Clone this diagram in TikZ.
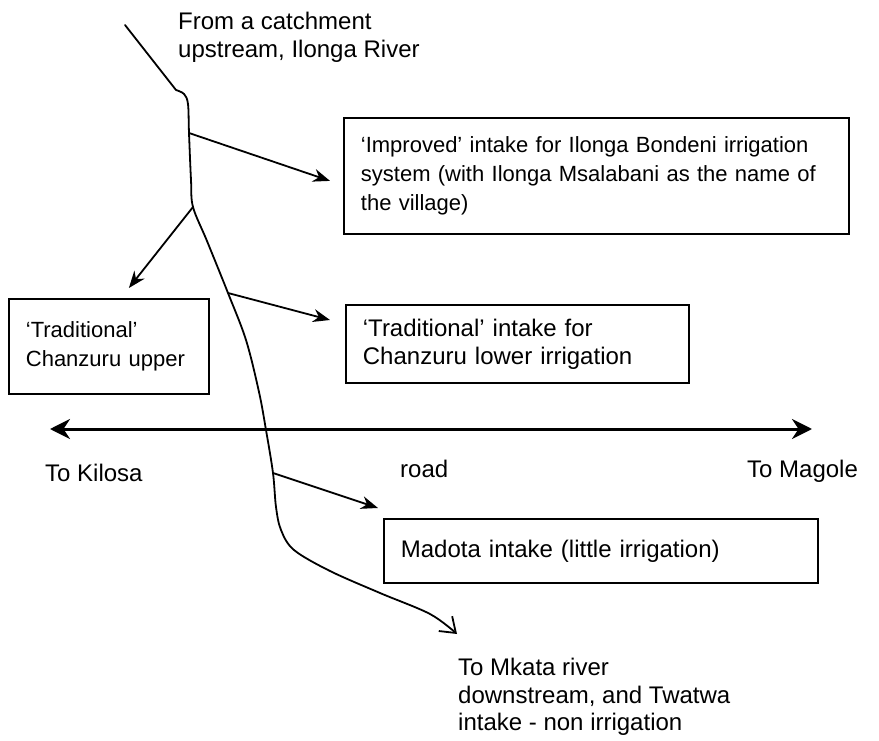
\documentclass[tikz,border=0pt]{standalone}
\usepackage{fontspec}
\setmainfont{Liberation Sans}
\usepackage{tikz}
\usetikzlibrary{arrows.meta}

\begin{document}
\begin{tikzpicture}[
    x=1pt, y=-1pt,
    intake/.style={rectangle, draw, line width=1.8pt, anchor=north west,
                   align=left, inner xsep=17pt, inner ysep=0pt,
                   font=\fontsize{22}{29}\selectfont},
    wide/.style={font=\fontsize{24}{28}\selectfont},
    note/.style={anchor=base west, align=left, inner sep=0pt,
                 font=\fontsize{24}{27.5}\selectfont},
    river/.style={line width=1.8pt, line join=round, line cap=round},
    feed/.style={line width=1.8pt, -{Stealth[length=17pt,width=13pt]}},
    road/.style={line width=3pt,
                 {Stealth[length=20pt,width=20pt]}-{Stealth[length=20pt,width=20pt]}}
  ]
    \useasboundingbox (0,0) rectangle (879,741);

    \node[intake, minimum width=505pt, minimum height=116pt, text width=471pt] (IMPROVED)
      at (343,117) {`Improved' intake for Ilonga Bondeni irrigation\\
                    system (with Ilonga Msalabani as the name of\\
                    the village)};
    \node[intake, minimum width=200pt, minimum height=95pt, text width=166pt] (CHUPPER)
      at (8,298) {`Traditional'\\Chanzuru upper};
    \node[intake, wide, minimum width=343pt, minimum height=78pt, text width=309pt] (CHLOWER)
      at (345,304) {`Traditional' intake for\\Chanzuru lower irrigation};
    \node[intake, wide, minimum width=434pt, minimum height=64pt, text width=400pt] (MADOTA)
      at (383,518) {Madota intake (little irrigation)};

    \node[note, anchor=north west] (CATCH) at (178,12) {From a catchment\\upstream, Ilonga River};
    \node[note, anchor=north west] (MKATA) at (458,658)
      {To Mkata river\\downstream, and Twatwa\\intake - non irrigation};
    \node[note] (KILOSA) at (45,481) {To Kilosa};
    \node[note] (ROAD) at (400,477) {road};
    \node[note] (MAGOLE) at (747,477) {To Magole};

    \coordinate (SRC) at (125,25);
    \coordinate (BEND) at (176,90);
    \coordinate (T1) at (189,133);
    \coordinate (T2) at (193,207);
    \coordinate (T3) at (228,293);
    \coordinate (T4) at (273,473);
    \coordinate (MOUTH) at (457,634);
    \coordinate (WEST) at (50,429);
    \coordinate (EAST) at (812,429);

    \draw[road] (WEST) -- (EAST);

    \draw[river] (SRC) -- (BEND);
    \draw[river, -{Straight Barb[length=14pt,width=20pt]}] plot[smooth, tension=0.55]
      coordinates {(BEND) (184,94) (188,104) (T1) (191,180) (T2) (207,241) (T3)
                   (246,340) (259,392) (266,430) (T4) (276,507) (281,530) (294,550)
                   (330,571) (380,593) (430,614) (MOUTH)};

    \draw[feed] (T1) -- ([xshift=-13pt,yshift=-5pt]IMPROVED.west);
    \draw[feed] (T2) -- ([xshift=20pt,yshift=10pt]CHUPPER.north);
    \draw[feed] (T3) -- ([xshift=-15pt,yshift=-16pt]CHLOWER.north west);
    \draw[feed] (T4) -- ([xshift=-5pt,yshift=10pt]MADOTA.north west);
\end{tikzpicture}
\end{document}
